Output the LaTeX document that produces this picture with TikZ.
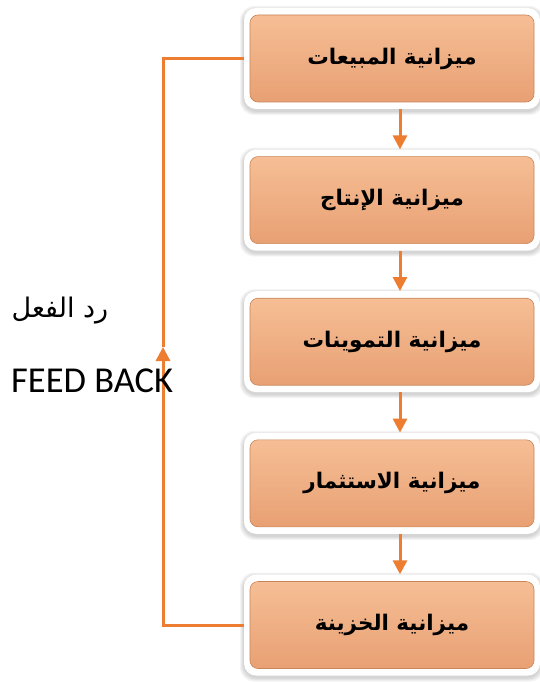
\documentclass[tikz,border=0pt]{standalone}
\usepackage{fontspec}
\TeXXeTstate=1
\newfontfamily\arabicfont[Script=Arabic]{DejaVu Sans}
\setmainfont{Carlito}
\usetikzlibrary{arrows.meta}
\definecolor{lineor}{HTML}{ED7D31}
\definecolor{boxtop}{HTML}{F6BE95}
\definecolor{boxbot}{HTML}{E8A073}
\definecolor{boxedge}{HTML}{C98558}
\tikzset{
  x=1pt, y=-1pt,
  frame/.style={rounded corners=12pt, fill=white, minimum width=296pt, minimum height=101pt, inner sep=0pt},
  glow/.style={rounded corners=14pt, fill=black, opacity=0.045, inner sep=0pt},
  inbox/.style={rounded corners=8pt, top color=boxtop, bottom color=boxbot, draw=boxedge, line width=0.6pt,
     minimum width=284pt, minimum height=87pt, inner sep=0pt,
     font=\arabicfont\bfseries\fontsize{21.5}{24}\selectfont},
  conn/.style={draw=lineor, line width=3pt, -{Triangle[width=14pt,length=14pt]}},
  fb/.style={draw=lineor, line width=3pt},
}
\begin{document}
\begin{tikzpicture}
\useasboundingbox (0,0) rectangle (539,682);
\foreach \i/\y in {1/58.5,2/200.1,3/341.7,4/483.3,5/625} {
  \foreach \w in {8,6,4,2} {
    \node[glow, minimum width=296pt+\w pt, minimum height=101pt+\w pt] at (392,\y+2) {};
  }
  \node[frame] (f\i) at (392,\y) {};
}
\node[inbox] (b1) at (392,58.5) {\beginR ميزانية المبيعات\endR};
\node[inbox] (b2) at (392,200.1) {\beginR ميزانية الإنتاج\endR};
\node[inbox] (b3) at (392,341.7) {\beginR ميزانية التموينات\endR};
\node[inbox] (b4) at (392,483.3) {\beginR ميزانية الاستثمار\endR};
\node[inbox] (b5) at (392,625) {\beginR ميزانية الخزينة\endR};
\foreach \a/\b in {1/2,2/3,3/4,4/5} {
  \draw[conn] ([xshift=8pt]f\a.south) -- ([xshift=8pt]f\b.north);
}
\coordinate (tip) at (163,347);
\draw[fb, -{Triangle[width=14pt,length=14pt]}] (f5.west) -| (tip);
\draw[fb] (tip) |- (f1.west);
\node[font=\arabicfont\fontsize{27}{30}\selectfont] (lbl) at (60,311) {\beginR رد الفعل\endR};
\node[anchor=west, font=\fontsize{36.5}{40}\selectfont, inner sep=0pt] (fbk) at (11,381) {FEED BACK};
\end{tikzpicture}
\end{document}
